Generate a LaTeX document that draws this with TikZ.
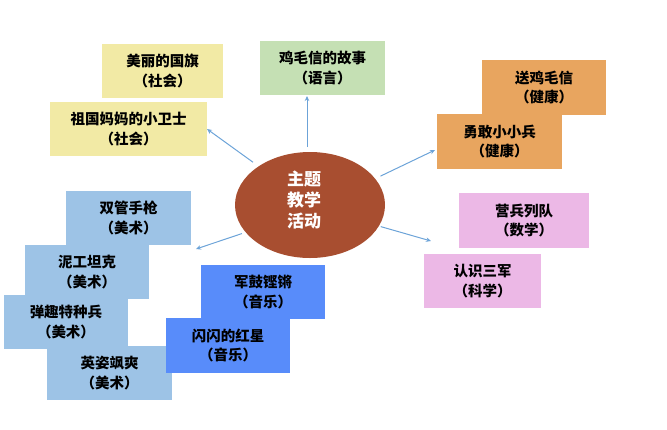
\documentclass[tikz,border=0pt]{standalone}
\usepackage{fontspec}
\setmainfont{Noto Sans CJK SC}
\usetikzlibrary{shapes.geometric,arrows.meta}
\definecolor{ylw}{RGB}{242,234,165}
\definecolor{grn}{RGB}{197,224,180}
\definecolor{org}{RGB}{232,165,95}
\definecolor{pnk}{RGB}{236,184,230}
\definecolor{lblu}{RGB}{157,195,230}
\definecolor{blu}{RGB}{88,140,250}
\definecolor{rust}{RGB}{168,78,48}
\definecolor{arrc}{RGB}{108,163,216}
\tikzset{
  box/.style={draw=none, inner sep=0pt, outer sep=0pt, align=center,
    font=\fontsize{14.5}{19.5}\selectfont\bfseries},
  arr/.style={draw=arrc, line width=1pt, -{Stealth[length=5pt,width=4.5pt]}}
}
\begin{document}
\begin{tikzpicture}[x=1pt,y=-1pt]
\useasboundingbox (0,0) rectangle (667,429);
% ellipse
\node[ellipse, fill=rust, draw=none, inner sep=0pt, outer sep=0pt,
  minimum width=150pt, minimum height=106pt] (c) at (310,205) {};
\node[align=center, text=white, inner sep=0pt,
  font=\fontsize{17}{21}\selectfont\bfseries] (ctext) at (304,199.5) {主题\\教学\\活动};
% yellow
\node[box, fill=ylw, minimum width=121pt, minimum height=54pt] (flag) at (162.5,71) {美丽的国旗\\（社会）};
\node[box, fill=ylw, minimum width=157pt, minimum height=54pt] (guard) at (128.5,129) {祖国妈妈的小卫士\\（社会）};
% green
\node[box, fill=grn, minimum width=125pt, minimum height=54pt] (story) at (322.5,68) {鸡毛信的故事\\（语言）};
% orange
\node[box, fill=org, minimum width=124pt, minimum height=55pt] (send) at (544,87.5) {送鸡毛信\\（健康）};
\node[box, fill=org, minimum width=125pt, minimum height=55pt] (brave) at (499.5,141.5) {勇敢小小兵\\（健康）};
% pink
\node[box, fill=pnk, minimum width=130pt, minimum height=55pt] (march) at (524,220.5) {营兵列队\\（数学）};
\node[box, fill=pnk, minimum width=117pt, minimum height=54pt] (army) at (482.5,281) {认识三军\\（科学）};
% light blue
\node[box, fill=lblu, minimum width=125pt, minimum height=54pt] (gun) at (128.5,218) {双管手枪\\（美术）};
\node[box, fill=lblu, minimum width=124pt, minimum height=54pt] (tank) at (87,272) {泥工坦克\\（美术）};
\node[box, fill=lblu, minimum width=124pt, minimum height=54pt] (special) at (66,322) {弹趣特种兵\\（美术）};
\node[box, fill=lblu, minimum width=125pt, minimum height=54pt] (brisk) at (109.5,373) {英姿飒爽\\（美术）};
% blue
\node[box, fill=blu, minimum width=124pt, minimum height=54pt] (drum) at (263,292) {军鼓铿锵\\（音乐）};
\node[box, fill=blu, minimum width=124pt, minimum height=55pt] (star) at (228,345.5) {闪闪的红星\\（音乐）};
% free ends
\coordinate (e1) at (307,96);
\coordinate (e3) at (435,150);
\coordinate (e4) at (431,241);
\coordinate (e5) at (196,249);
% arrows
\draw[arr, shorten <=7pt] (c.143) -- (guard.east);
\draw[arr] (c.north) ++(-3,-5) coordinate (s1) (s1) -- (e1);
\draw[arr, shorten <=6pt] (c.22.5) -- (e3);
\draw[arr, shorten <=2pt] (c.-17.2) -- (e4);
\draw[arr, shorten <=4pt] (c.203.1) -- (e5);
\end{tikzpicture}
\end{document}
